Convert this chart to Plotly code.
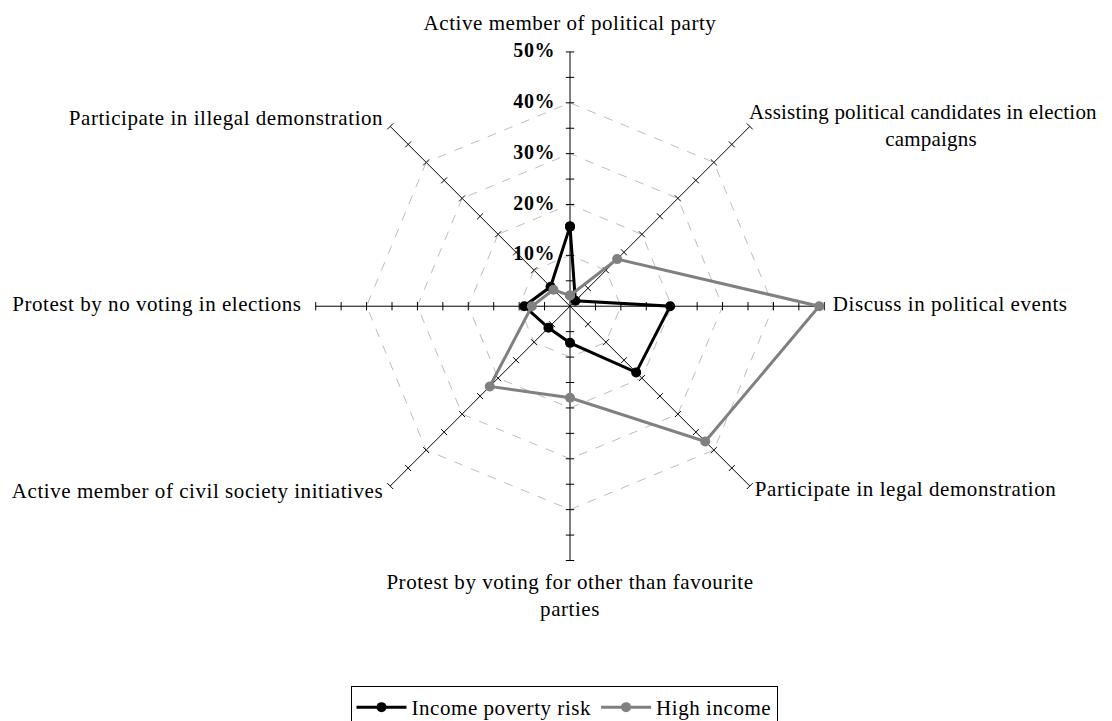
import plotly.graph_objects as go

categories = [
    "Active member of political party",
    "Assisting political candidates in election campaigns",
    "Discuss in political events",
    "Participate in legal demonstration",
    "Protest by voting for other than favourite parties",
    "Active member of civil society initiatives",
    "Protest by no voting in elections",
    "Participate in illegal demonstration",
]
category_labels = [
    "Active member of political party",
    "Assisting political candidates in election<br>" + "&nbsp;" * 25 + "campaigns",
    "Discuss in political events",
    "Participate in legal demonstration",
    "Protest by voting for other than favourite<br>parties",
    "Active member of civil society initiatives",
    "Protest by no voting in elections",
    "Participate in illegal demonstration",
]
poverty_risk = [15.7, 1.5, 19.7, 18.4, 7.2, 6.0, 9.0, 5.4]
high_income = [2.1, 13.1, 49.0, 37.6, 18.0, 22.3, 7.5, 4.6]
tick_values = [5, 10, 15, 20, 25, 30, 35, 40, 45, 50]
label_values = [0, 10, 20, 30, 40, 50]
label_text = ["0%", "10%", "20%", "30%", "40%", "50%"]

FONT = "Liberation Serif"


def spaced(t, ls=0.55):
    return "<br>".join(f"<span style='letter-spacing:{ls}px'>{p}</span>"
                       for p in t.split("<br>"))


# category label placement (layout only) on a larger concentric overlay polar
K = 1.16
label_r = [95.5, 85.8, 89.1, 88.6, 98.6, 89.6, 91.0, 89.6]
label_pos = ["middle center", "middle right", "middle right", "middle right",
             "middle center", "middle left", "middle left", "middle left"]
label_ls = [0.55, 0.2, 0.55, 0.55, 0.55, 0.55, 0.55, 0.55]

fig = go.Figure()

# spoke tick marks (axis decoration)
tr, tt, ta = [], [], []
for i, c in enumerate(categories):
    for v in tick_values:
        tr.append(v)
        tt.append(c)
        ta.append(45 * i - 90)
fig.add_trace(go.Scatterpolar(
    r=tr, theta=tt, mode="markers",
    marker=dict(symbol="line-ns", size=6, angle=ta,
                line=dict(color="black", width=1), color="black"),
    hoverinfo="skip", showlegend=False,
))

fig.add_trace(go.Scatterpolar(
    r=poverty_risk + poverty_risk[:1], theta=categories + categories[:1],
    mode="lines+markers", name=spaced("Income poverty risk"),
    line=dict(color="black", width=3),
    marker=dict(color="black", size=10),
))
fig.add_trace(go.Scatterpolar(
    r=high_income + high_income[:1], theta=categories + categories[:1],
    mode="lines+markers", name=spaced("High income"),
    line=dict(color="#808080", width=3),
    marker=dict(color="#808080", size=10),
))

# radial value labels
fig.add_trace(go.Scatterpolar(
    r=label_values, theta=[categories[0]] * len(label_values),
    mode="text", text=[spaced(t) + "&nbsp;&nbsp;&nbsp;" for t in label_text],
    textposition="middle left",
    textfont=dict(family=FONT, size=20, color="black", weight="bold"),
    cliponaxis=False, hoverinfo="skip", showlegend=False,
))

# category labels
fig.add_trace(go.Scatterpolar(
    r=label_r, theta=categories, mode="text",
    text=[spaced(t, ls) for t, ls in zip(category_labels, label_ls)],
    textposition=label_pos,
    textfont=dict(family=FONT, size=21, color="black"),
    cliponaxis=False, hoverinfo="skip", showlegend=False,
    subplot="polar2",
))

W, H = 1112, 721
cx, cy = 562.0, 302.0       # domain centre in px
hx, hy = 259.0, 257.5       # domain half sizes in px


def domain(k):
    return dict(x=[(cx - hx * k) / W, (cx + hx * k) / W],
                y=[1 - (cy + hy * k) / H, 1 - (cy - hy * k) / H])


fig.update_layout(
    width=W, height=H,
    margin=dict(l=0, r=0, t=0, b=0),
    paper_bgcolor="white", plot_bgcolor="white",
    font=dict(family=FONT, size=21, color="black"),
    polar=dict(
        domain=domain(1.0),
        bgcolor="white",
        gridshape="linear",
        radialaxis=dict(
            range=[0, 50], angle=90,
            tickvals=tick_values[1::2],
            showticklabels=False,
            showline=False, ticks="",
            gridcolor="#bdbdbd", griddash="dash", gridwidth=1,
        ),
        angularaxis=dict(
            rotation=90, direction="clockwise",
            showline=False, ticks="", showticklabels=False,
            gridcolor="black", gridwidth=1,
        ),
    ),
    polar2=dict(
        domain=domain(K),
        bgcolor="rgba(0,0,0,0)",
        gridshape="linear",
        radialaxis=dict(range=[0, 100], showgrid=False, showline=False,
                        showticklabels=False, ticks=""),
        angularaxis=dict(rotation=90, direction="clockwise",
                         showgrid=False, showline=False, ticks="",
                         showticklabels=False),
    ),
    legend=dict(
        orientation="h", x=0.5, xanchor="center", y=1 - 687 / 721, yanchor="top",
        bordercolor="black", borderwidth=1,
        font=dict(family=FONT, size=21, color="black"),
        itemwidth=50,
    ),
)

fig.write_html("out.html")
